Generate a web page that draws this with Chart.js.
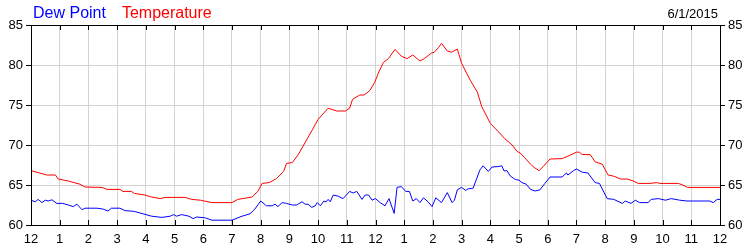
<!DOCTYPE html>
<html>
<head>
<meta charset="utf-8">
<script src="https://cdn.jsdelivr.net/npm/chart.js@4"></script>
<style>
  html, body { margin: 0; padding: 0; background: #fff; }
  canvas { display: block; }
</style>
</head>
<body>
<canvas id="myChart" width="750" height="250"></canvas>
<script>
const dateLabel = "6/1/2015";
const seriesNames = ["Dew Point", "Temperature"];
const hourTicks = [12, 1, 2, 3, 4, 5, 6, 7, 8, 9, 10, 11, 12, 1, 2, 3, 4, 5, 6, 7, 8, 9, 10, 11, 12];
const tempTicks = [60, 65, 70, 75, 80, 85];

// hours since midnight
const tempHours = [0, 0.3, 0.55, 0.85, 0.95, 1.3, 1.5, 1.7, 1.88, 2.47, 2.65, 3.1, 3.2, 3.5, 3.6, 3.97, 4.2, 4.5, 4.67, 5.37,
  5.6, 5.9, 6.3, 7.0, 7.2, 7.7, 7.9, 8.05, 8.3, 8.55, 8.8, 8.9, 9.1, 9.3, 9.5, 9.8, 10.0, 10.35, 10.65, 10.95,
  11.1, 11.2, 11.45, 11.6, 11.8, 11.97, 12.1, 12.27, 12.45, 12.68, 12.9, 13.1, 13.3, 13.55, 13.7, 13.95, 14.05, 14.2, 14.3, 14.5,
  14.65, 14.85, 15.0, 15.1, 15.3, 15.55, 15.7, 16.0, 16.27, 16.5, 16.76, 16.93, 17.04, 17.2, 17.4, 17.56, 17.7, 17.84, 18.08, 18.5,
  18.7, 19.0, 19.1, 19.2, 19.48, 19.65, 19.9, 20.1, 20.3, 20.53, 20.76, 20.98, 21.15, 21.57, 21.8, 21.9, 22.55, 22.7, 22.87, 24];
const tempValues = [66.8, 66.5, 66.25, 66.25, 65.75, 65.5, 65.3, 65.1, 64.75, 64.7, 64.45, 64.45, 64.2, 64.2, 63.95, 63.75, 63.5, 63.3, 63.45, 63.45,
  63.2, 63.1, 62.8, 62.8, 63.2, 63.5, 64.2, 65.2, 65.3, 65.8, 66.7, 67.7, 67.8, 68.75, 70, 71.9, 73.2, 74.6, 74.25, 74.25,
  74.6, 75.7, 76.25, 76.25, 76.8, 77.8, 79, 80.3, 80.8, 81.95, 81.1, 80.8, 81.25, 80.5, 80.8, 81.5, 81.6, 82.2, 82.7, 81.75,
  81.6, 82.0, 80.2, 79.5, 78.1, 76.6, 74.8, 72.7, 71.7, 70.8, 70.0, 69.2, 69.0, 68.4, 67.6, 67.1, 66.8, 67.3, 68.25, 68.3,
  68.6, 69.1, 69.1, 68.8, 68.8, 67.9, 67.6, 66.25, 66.1, 65.75, 65.75, 65.5, 65.2, 65.2, 65.3, 65.2, 65.2, 65.0, 64.7, 64.7];

const dewHours = [0, 0.15, 0.25, 0.38, 0.5, 0.6, 0.73, 0.9, 1.1, 1.3, 1.47, 1.6, 1.78, 1.88, 2.3, 2.5, 2.68, 2.8, 3.1, 3.27,
  3.6, 3.9, 4.2, 4.56, 4.85, 4.96, 5.07, 5.25, 5.5, 5.65, 5.77, 6.07, 6.3, 7.0, 7.35, 7.63, 7.8, 8.0, 8.2, 8.4,
  8.5, 8.6, 8.75, 8.9, 9.1, 9.25, 9.44, 9.55, 9.65, 9.78, 9.9, 9.97, 10.08, 10.2, 10.28, 10.35, 10.42, 10.53, 10.7, 10.87,
  11.1, 11.22, 11.35, 11.53, 11.64, 11.76, 11.88, 12.0, 12.16, 12.33, 12.47, 12.65, 12.75, 12.9, 13.05, 13.18, 13.3, 13.42, 13.55, 13.67,
  13.83, 13.97, 14.1, 14.3, 14.5, 14.67, 14.75, 14.85, 15.0, 15.15, 15.2, 15.4, 15.64, 15.75, 15.93, 16.06, 16.27, 16.4, 16.48, 16.58,
  16.7, 16.87, 17.0, 17.1, 17.25, 17.4, 17.56, 17.73, 17.9, 18.08, 18.5, 18.65, 18.7, 18.9, 19.0, 19.2, 19.4, 19.65, 19.8, 20.07,
  20.3, 20.6, 20.7, 20.9, 21.05, 21.2, 21.5, 21.6, 21.85, 22.1, 22.3, 22.6, 22.85, 23.65, 23.77, 23.9, 24];
const dewValues = [63.1, 62.9, 63.2, 62.8, 63.1, 63.0, 63.15, 62.7, 62.7, 62.5, 62.3, 62.6, 61.9, 62.1, 62.1, 62.0, 61.75, 62.1, 62.1, 61.8,
  61.7, 61.4, 61.1, 60.95, 61.1, 61.3, 61.1, 61.3, 61.1, 60.8, 61.0, 60.9, 60.6, 60.6, 61.1, 61.4, 62.0, 63.0, 62.4, 62.4,
  62.6, 62.3, 62.8, 62.7, 62.5, 62.5, 62.9, 62.6, 62.6, 62.2, 62.4, 62.8, 62.4, 63.0, 62.9, 63.2, 62.9, 63.75, 63.6, 63.3,
  64.2, 64.0, 64.2, 63.2, 63.75, 63.75, 63.1, 63.3, 62.8, 62.4, 63.3, 61.45, 64.7, 64.8, 64.2, 64.2, 63.0, 63.3, 62.8, 63.4,
  62.9, 62.3, 63.4, 62.8, 64.05, 62.8, 63.1, 64.4, 64.7, 64.3, 64.5, 64.6, 66.9, 67.4, 66.7, 67.25, 67.3, 67.4, 66.75, 66.8,
  66.1, 65.7, 65.6, 65.3, 65.1, 64.45, 64.25, 64.4, 65.2, 66.0, 66.0, 66.5, 66.25, 66.8, 67.0, 66.6, 66.5, 65.3, 65.2, 63.3,
  63.2, 62.7, 63.0, 62.7, 63.1, 62.8, 62.8, 63.2, 63.3, 63.1, 63.3, 63.1, 63.0, 63.0, 62.8, 63.2, 63.2];

const FONT = "Arial, 'Liberation Sans', sans-serif";

function toPoints(xs, ys) {
  return xs.map((x, i) => ({ x: x, y: ys[i] }));
}

// black frame round the plot plus the short inward hour ticks
const framePlugin = {
  id: "frame",
  afterDraw(chart) {
    const { ctx, chartArea: a, scales } = chart;
    ctx.save();
    ctx.strokeStyle = "#000";
    ctx.lineWidth = 1;
    ctx.strokeRect(Math.round(a.left) + 0.5, Math.round(a.top) + 0.5,
      Math.round(a.right - a.left), Math.round(a.bottom - a.top));
    ctx.beginPath();
    scales.x.ticks.forEach((t) => {
      const px = Math.round(scales.x.getPixelForValue(t.value)) + 0.5;
      ctx.moveTo(px, a.bottom);
      ctx.lineTo(px, a.bottom - 5);
      ctx.moveTo(px, a.top);
      ctx.lineTo(px, a.top + 5);
    });
    ctx.stroke();

    // header: series names in their colours, date on the right
    ctx.textBaseline = "alphabetic";
    ctx.font = "16px " + FONT;
    let x = 33;
    chart.data.datasets.forEach((ds) => {
      ctx.fillStyle = ds.borderColor;
      ctx.textAlign = "left";
      ctx.fillText(ds.label, x, 18);
      x += ctx.measureText(ds.label).width + 16;
    });
    ctx.fillStyle = "#000";
    ctx.font = "13px " + FONT;
    ctx.textAlign = "right";
    ctx.fillText(dateLabel, 718, 18);
    ctx.restore();
  },
};

const yAxis = (position, width) => ({
  position: position,
  min: tempTicks[0],
  max: tempTicks[tempTicks.length - 1],
  afterBuildTicks: (scale) => { scale.ticks = tempTicks.map((v) => ({ value: v })); },
  afterFit: (scale) => { scale.width = width; },
  grid: {
    color: "#d3d3d3",
    drawOnChartArea: position === "left",
    tickColor: "#000",
    tickLength: 5,
  },
  border: { display: false },
  ticks: { color: "#000", padding: 3, font: { family: FONT, size: 13 } },
});

new Chart(document.getElementById("myChart"), {
  type: "line",
  data: {
    datasets: [
      {
        label: seriesNames[0],
        data: toPoints(dewHours, dewValues),
        borderColor: "#0000ff",
        borderWidth: 1,
        pointRadius: 0,
        yAxisID: "y",
      },
      {
        label: seriesNames[1],
        data: toPoints(tempHours, tempValues),
        borderColor: "#ff0000",
        borderWidth: 1,
        pointRadius: 0,
        yAxisID: "y",
      },
    ],
  },
  options: {
    responsive: false,
    animation: false,
    devicePixelRatio: 1,
    layout: { padding: { top: 25, left: 0, right: 0, bottom: 0 } },
    plugins: {
      legend: { display: false },
      tooltip: { enabled: false },
    },
    scales: {
      x: {
        type: "linear",
        min: 0,
        max: 24,
        afterBuildTicks: (scale) => { scale.ticks = hourTicks.map((h, i) => ({ value: i })); },
        afterFit: (scale) => { scale.height = 25; },
        grid: { color: "#d3d3d3", drawTicks: false },
        border: { display: false },
        ticks: {
          color: "#000",
          padding: 7,
          maxRotation: 0,
          autoSkip: false,
          font: { family: FONT, size: 13 },
          callback: (v) => hourTicks[v],
        },
      },
      y: yAxis("left", 31),
      y2: yAxis("right", 30),
    },
  },
  plugins: [framePlugin],
});
</script>
</body>
</html>
